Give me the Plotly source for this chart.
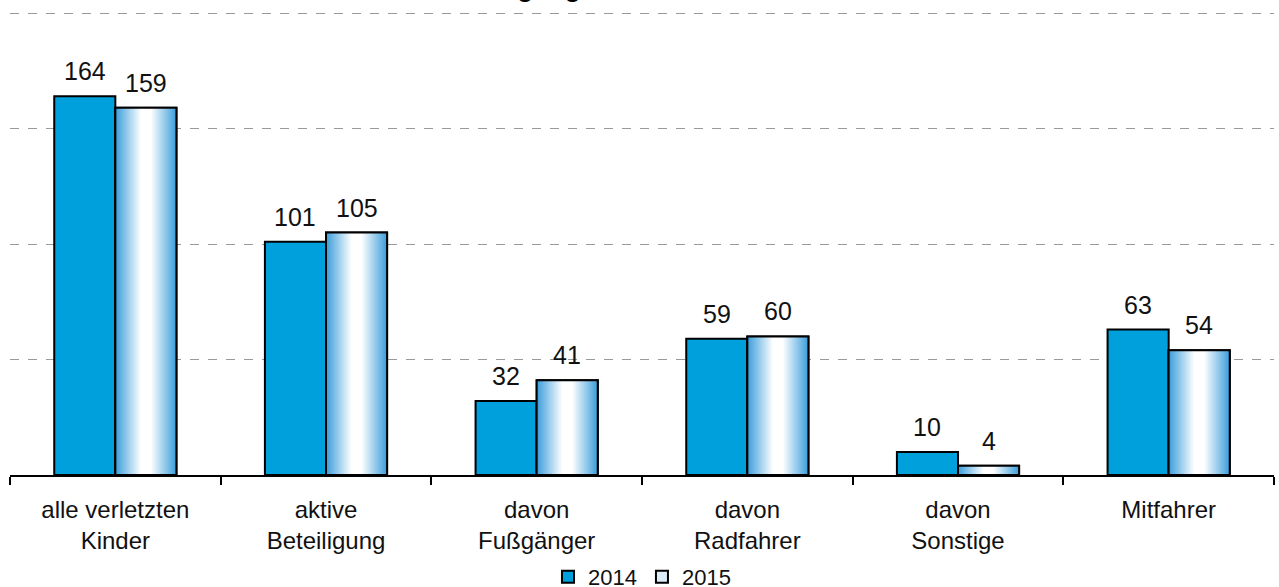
import plotly.graph_objects as go

categories = ["alle verletzten<br>Kinder", "aktive<br>Beteiligung", "davon<br>Fußgänger",
              "davon<br>Radfahrer", "davon<br>Sonstige", "Mitfahrer"]
values_2014 = [164, 101, 32, 59, 10, 63]
values_2015 = [159, 105, 41, 60, 4, 54]
series_names = ["2014", "2015"]
title_text = "Verletzte Kinder nach Art der Verkehrsbeteiligung"

FONT = "Liberation Sans, Arial, sans-serif"
BARGAP = 0.42
w = (1 - BARGAP) / 2
xs = list(range(len(categories)))

fig = go.Figure()
fig.add_trace(go.Bar(
    x=xs, y=values_2014, name=series_names[0],
    marker=dict(color="#00a0dc", line=dict(color="black", width=2)),
))
fig.add_trace(go.Bar(
    x=xs, y=values_2015, name=series_names[1],
    marker=dict(color="#dcecf8", line=dict(color="black", width=2)),
))

# gradient overlay for the 2015 bars
for i, v in zip(xs, values_2015):
    fig.add_trace(go.Scatter(
        x=[i, i, i + w, i + w, i], y=[0, v, v, 0, 0],
        mode="lines", fill="toself",
        fillgradient=dict(type="horizontal",
                          colorscale=[[0, "#3a9ddb"], [0.42, "#ffffff"],
                                      [0.58, "#ffffff"], [1, "#3a9ddb"]]),
        line=dict(color="black", width=2),
        showlegend=False, hoverinfo="skip",
    ))

# value labels
for vals, off in ((values_2014, -w / 2), (values_2015, w / 2)):
    for i, v in zip(xs, vals):
        fig.add_annotation(
            x=i + off, y=v, text=str(v), showarrow=False,
            xanchor="center", yanchor="bottom", yshift=9,
            font=dict(size=25, color="#111111", family=FONT),
        )

fig.add_annotation(
    text="<b>" + title_text + "</b>", xref="paper", yref="paper",
    x=(583 - 10) / 1264, y=1, xanchor="right", yanchor="bottom", yshift=7,
    showarrow=False, font=dict(size=26, color="black", family=FONT),
)

fig.update_layout(
    width=1279, height=587,
    margin=dict(l=10, r=5, t=12, b=112, autoexpand=False),
    paper_bgcolor="white", plot_bgcolor="white",
    barmode="group", bargap=BARGAP, bargroupgap=0,
    font=dict(family=FONT, size=24, color="#111111"),
    xaxis=dict(
        range=[-0.5, len(categories) - 0.5],
        tickmode="array", tickvals=xs, ticktext=categories,
        ticks="", showgrid=False, zeroline=False, automargin=False,
        showline=True, linecolor="black", linewidth=1.5,
        tickfont=dict(size=24, color="#111111", family=FONT),
        ticklabelstandoff=12,
        minor=dict(tickmode="array",
                   tickvals=[i - 0.5 for i in range(len(categories) + 1)],
                   ticks="outside", ticklen=8, tickwidth=1.5, tickcolor="black",
                   showgrid=False),
        fixedrange=True,
    ),
    yaxis=dict(
        range=[0, 200.5], tickvals=[50, 100, 150, 200], showticklabels=False,
        showgrid=True, gridcolor="#9a9a9a", griddash="dash", gridwidth=1,
        zeroline=False, showline=False, ticks="", fixedrange=True, automargin=False,
    ),
    legend=dict(
        orientation="h", x=0.5, xanchor="center",
        yref="container", y=0.017, yanchor="middle",
        font=dict(size=22, color="#111111", family=FONT),
        itemwidth=30, tracegroupgap=0, bgcolor="rgba(0,0,0,0)",
    ),
    showlegend=True,
)

fig.write_html(
    "out.html",
    config={"displayModeBar": False},
    post_script="document.body.style.margin='0';document.body.style.overflow='hidden';",
)
